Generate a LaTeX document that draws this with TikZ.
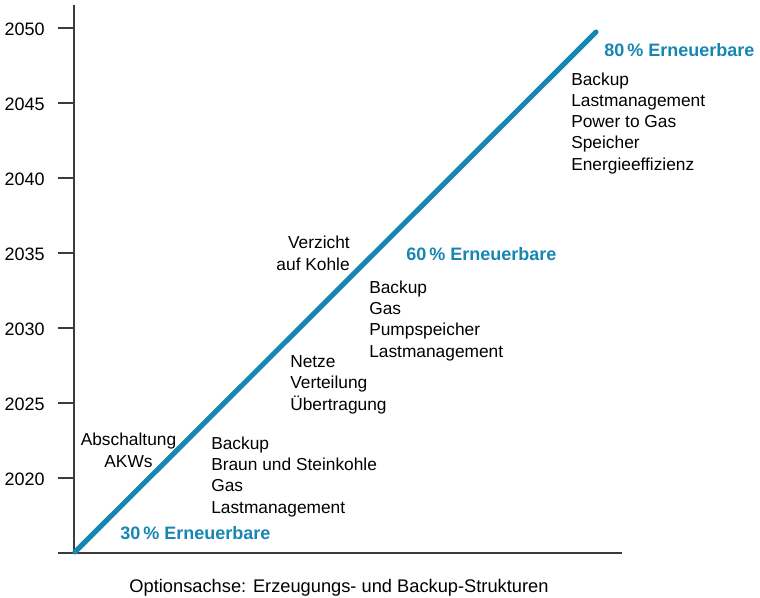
\documentclass[tikz,border=0pt]{standalone}
\usepackage{fontspec}
\setmainfont{Liberation Sans}
\usepackage{xcolor}
\definecolor{ebblue}{RGB}{23,134,178}
\definecolor{axisgray}{RGB}{60,60,60}

\begin{document}
\begin{tikzpicture}[x=0.75pt,y=-0.75pt,
    axis/.style={draw=axisgray, line width=1.1pt},
    trend/.style={draw=ebblue, line width=3.8pt, line cap=round},
    lbl/.style={inner sep=0pt, font=\fontsize{13}{15.9}\selectfont},
    yearlbl/.style={inner sep=0pt, anchor=base east, font=\fontsize{13.5}{16}\selectfont},
    share/.style={inner sep=0pt, anchor=base west, text=ebblue, font=\fontsize{13.5}{16}\selectfont\bfseries}]
        \useasboundingbox (0,0) rectangle (760,597);

        \coordinate (origin) at (74,553);
        \coordinate (ytop) at (74,5);
        \coordinate (xend) at (622,553);
        \coordinate (xstart) at (58,553);
        \draw[axis] (origin) -- (ytop);
        \draw[axis] (xstart) -- (xend);

        \foreach \yr/\py in {2020/478,2025/403,2030/328,2035/253,2040/178,2045/103,2050/28}{
            \draw[axis] (58,\py) -- (74,\py);
            \node[yearlbl] (y\yr) at (45,\py+7) {\yr};
        }

        \coordinate (start) at (75,552);
        \coordinate (goal) at (596,32);
        \draw[trend] (start) -- (goal);

        \node[share] (share30) at (120,539) {30\,\% Erneuerbare};
        \node[share] (share60) at (406,260) {60\,\% Erneuerbare};
        \node[share] (share80) at (604,56) {80\,\% Erneuerbare};

        % multi-line nodes: base sits on the last line
        \node[lbl, align=center, anchor=base] (akw) at (128.5,467) {Abschaltung\\AKWs};
        \node[lbl, align=right, anchor=base east] (kohle) at (350,270) {Verzicht\\auf Kohle};

        \node[lbl, align=left, anchor=base west] (opt30) at (211,513) {Backup\\Braun und Steinkohle\\Gas\\Lastmanagement};
        \node[lbl, align=left, anchor=base west] (netze) at (290,410) {Netze\\Verteilung\\Übertragung};
        \node[lbl, align=left, anchor=base west] (opt60) at (369,357) {Backup\\Gas\\Pumpspeicher\\Lastmanagement};
        \node[lbl, align=left, anchor=base west] (opt80) at (571,170) {Backup\\Lastmanagement\\Power to Gas\\Speicher\\Energieeffizienz};

        \node[lbl, font=\fontsize{13.7}{16}\selectfont, anchor=base] (caption) at (339,592) {Optionsachse: Erzeugungs- und Backup-Strukturen};
    \end{tikzpicture}
\end{document}
